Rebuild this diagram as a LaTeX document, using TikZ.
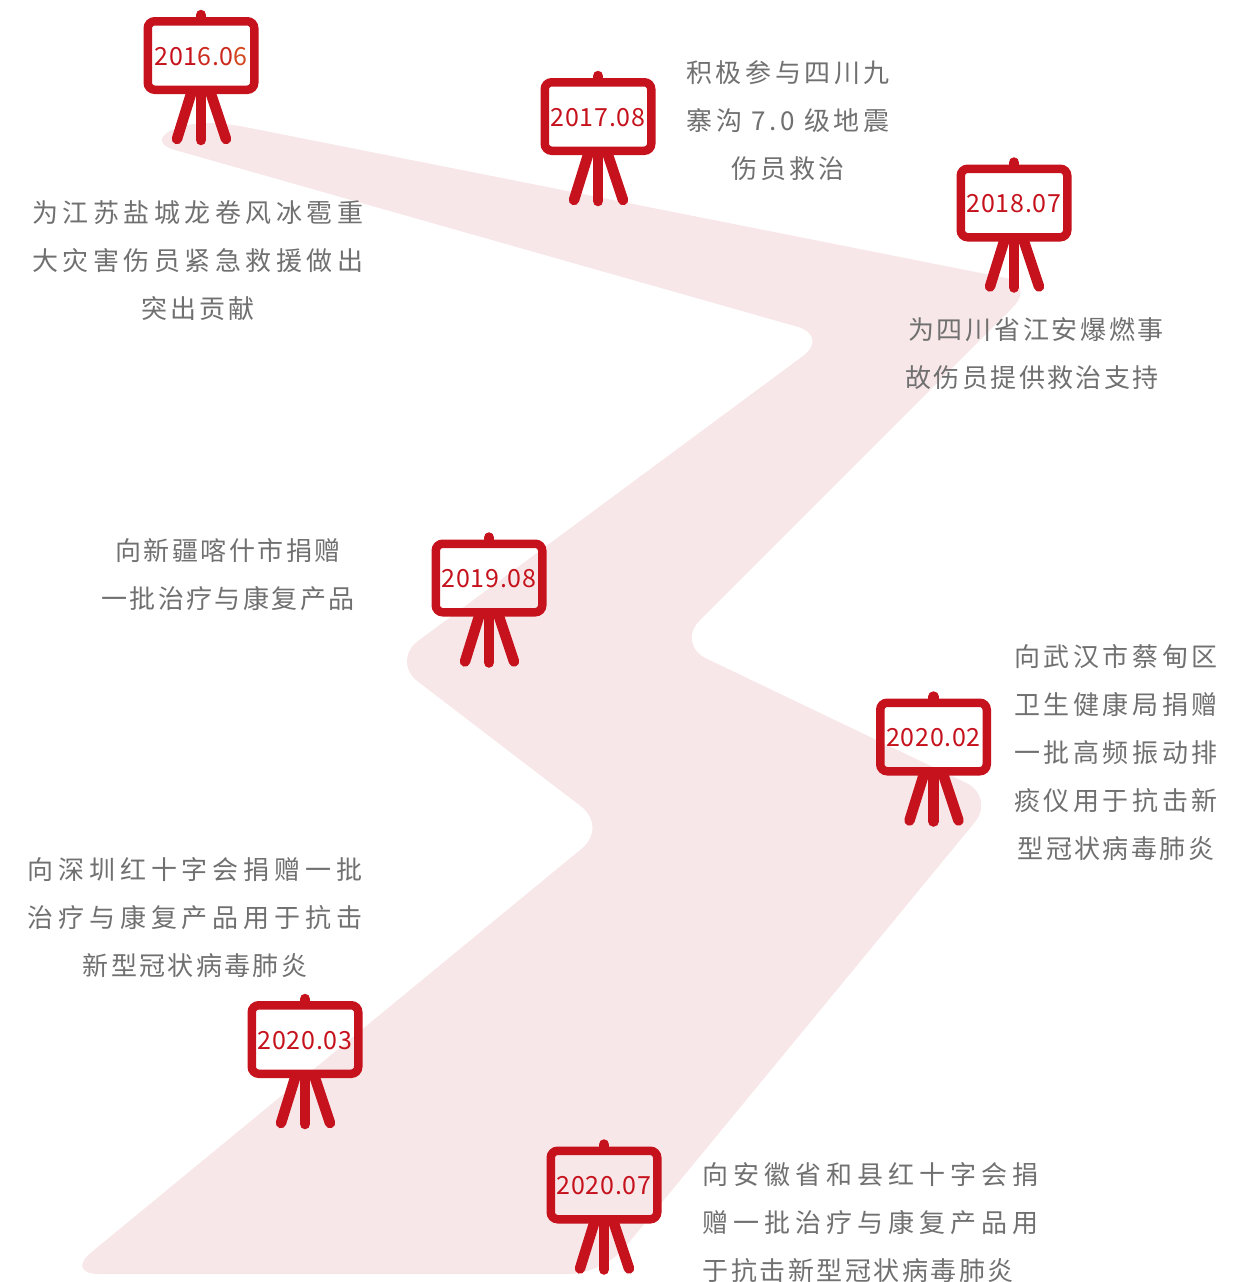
\documentclass[tikz,border=0pt]{standalone}
\usepackage{fontspec}
\setmainfont{Noto Sans CJK SC}
\newcommand{\ls}[2]{{\addfontfeature{LetterSpace=#1}#2}}
\definecolor{easelred}{HTML}{C5121C}
\definecolor{ribbonpink}{HTML}{F8E7E8}
\definecolor{bodygray}{HTML}{707070}
\definecolor{hotA}{HTML}{CC2A1E}
\definecolor{hotB}{HTML}{D2491F}
\tikzset{
  note/.style={text=bodygray,inner sep=0pt,font=\fontsize{26}{48}\selectfont},
  board/.style={draw=easelred,line width=8.5pt,rounded corners=7pt,minimum width=106.5pt,minimum height=68.5pt,inner sep=0pt,text=easelred,font=\fontsize{25}{30}\selectfont},
  leg/.style={draw=easelred,line width=10.5pt,line cap=round}
}
% #1 name, #2 x, #3 y of board centre, #4 label
\newcommand{\easel}[4]{%
  \node[board] (#1) at (#2,#3) {\rule{0pt}{19.5pt}\ls{3}{#4}};
  \coordinate (#1top) at ([yshift=2pt]#1.north);
  \coordinate (#1legl) at ([xshift=-24pt,yshift=-45pt]#1.south);
  \coordinate (#1legm) at ([yshift=-46pt]#1.south);
  \coordinate (#1legr) at ([xshift=25pt,yshift=-45pt]#1.south);
  \draw[leg] (#1.north) -- (#1top);
  \draw[leg] ([xshift=-10pt]#1.south) -- (#1legl);
  \draw[leg] (#1.south) -- (#1legm);
  \draw[leg] ([xshift=10pt]#1.south) -- (#1legr);
}
\begin{document}
\begin{tikzpicture}[x=1pt,y=-1pt]
\useasboundingbox (0,0) rectangle (1245,1282);
% ribbon
\fill[ribbonpink] (250,128) .. controls (215,121) and (190,121) .. (170,131)
  .. controls (157,138) and (160,146) .. (175,150)
  [rounded corners=34pt] -- (830,336)
  [rounded corners=34pt] -- (391,661)
  [rounded corners=34pt] -- (608,827)
  [rounded corners=34pt] -- (65,1274)
  [rounded corners=34pt] -- (603,1274)
  [rounded corners=33pt] -- (995.6,797)
  [rounded corners=34pt] -- (676,644)
  [rounded corners=32pt] -- (1036,284)
  [sharp corners] -- cycle;
% easels
\easel{e1}{201}{55.5}{\textcolor{easelred}{201}\textcolor{hotA}{6.0}\textcolor{hotB}{6}}
\easel{e2}{598}{116.5}{2017.08}
\easel{e3}{1014}{203}{2018.07}
\easel{e4}{489}{578}{2019.08}
\easel{e5}{933.5}{737}{2020.02}
\easel{e6}{305}{1039.5}{2020.03}
\easel{e7}{604}{1185}{2020.07}
% texts
\node[note,align=center] (t1) at (198,261) {\ls{17.3}{为江苏盐城龙卷风冰雹重}\\\ls{17.3}{大灾害伤员紧急救援做出}\\\ls{11.5}{突出贡献}};
\node[note,align=center] (t2) at (788,121) {\ls{14}{积极参与四川九}\\\ls{14}{寨沟 7.0 级地震}\\\ls{10.5}{伤员救治}};
\node[note,align=center] (t3) at (1034,354) {\hspace*{4pt}\ls{10.5}{为四川省江安爆燃事}\\\ls{9.5}{故伤员提供救治支持}\hspace*{4pt}};
\node[note,align=center] (t4) at (228,575) {\ls{9.5}{向新疆喀什市捐赠}\\\ls{9.5}{一批治疗与康复产品}};
\node[note,align=center] (t5) at (1116,753) {\ls{13.5}{向武汉市蔡甸区}\\\ls{13.5}{卫生健康局捐赠}\\\ls{13.5}{一批高频振动排}\\\ls{13.5}{痰仪用于抗击新}\\\ls{9}{型冠状病毒肺炎}};
\node[note,align=center] (t6) at (195,918) {\ls{19}{向深圳红十字会捐赠一批}\\\ls{19}{治疗与康复产品用于抗击}\\\ls{9}{新型冠状病毒肺炎}};
\node[note,align=left] (t7) at (870.5,1223) {\ls{19}{向安徽省和县红十字会捐}\\\ls{19}{赠一批治疗与康复产品用}\\\ls{9.5}{于抗击新型冠状病毒肺炎}};
\end{tikzpicture}
\end{document}
